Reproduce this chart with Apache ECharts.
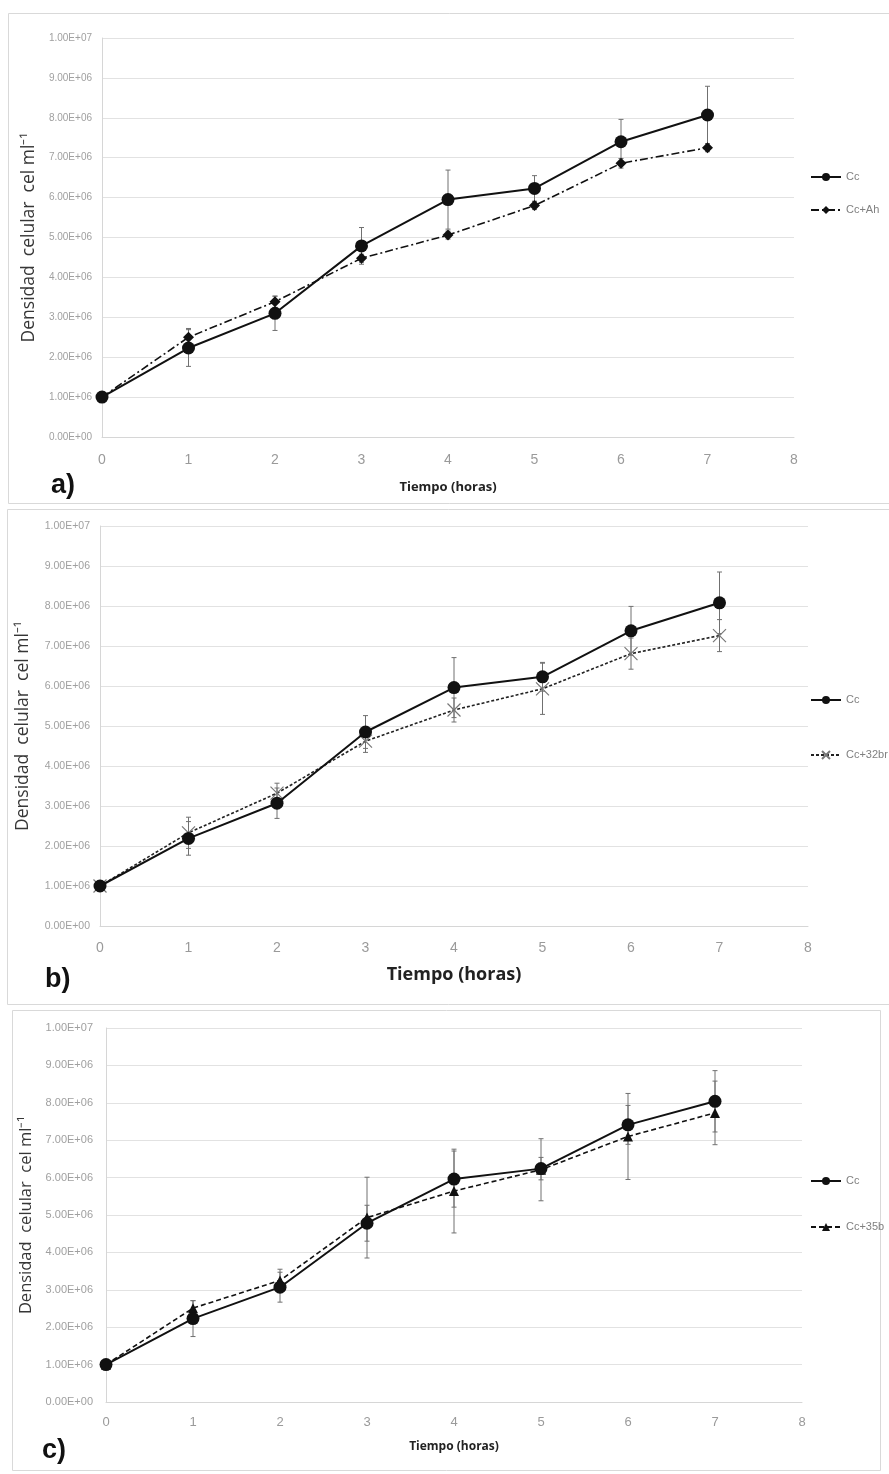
<!DOCTYPE html>
<html>
<head>
<meta charset="utf-8">
<script src="https://cdn.jsdelivr.net/npm/echarts@6/dist/echarts.min.js"></script>
<style>
html,body{margin:0;padding:0;background:#fff;}
#c{width:889px;height:1474px;}
</style>
</head>
<body>
<div id="c"></div>
<script>
// ---- data ----
const hours = [0, 1, 2, 3, 4, 5, 6, 7];
const xTicks = [0, 1, 2, 3, 4, 5, 6, 7, 8];

// panel a
const a_cc      = [1.00e6, 2.23e6, 3.10e6, 4.79e6, 5.95e6, 6.23e6, 7.40e6, 8.07e6];
const a_cc_err  = [0, 0.46e6, 0.43e6, 0.46e6, 0.74e6, 0.32e6, 0.56e6, 0.72e6];
const a_ah      = [1.00e6, 2.50e6, 3.39e6, 4.48e6, 5.06e6, 5.80e6, 6.86e6, 7.25e6];
const a_ah_err  = [0, 0.22e6, 0.14e6, 0.10e6, 0.10e6, 0.10e6, 0.12e6, 0.10e6];

// panel b
const b_cc      = [1.00e6, 2.19e6, 3.07e6, 4.85e6, 5.96e6, 6.23e6, 7.38e6, 8.08e6];
const b_cc_err  = [0, 0.42e6, 0.38e6, 0.41e6, 0.75e6, 0.36e6, 0.61e6, 0.77e6];
const b_br      = [1.00e6, 2.33e6, 3.32e6, 4.62e6, 5.40e6, 5.93e6, 6.81e6, 7.26e6];
const b_br_err  = [0, 0.39e6, 0.25e6, 0.28e6, 0.30e6, 0.64e6, 0.39e6, 0.40e6];

// panel c
const c_cc      = [1.00e6, 2.23e6, 3.07e6, 4.78e6, 5.96e6, 6.24e6, 7.41e6, 8.04e6];
const c_cc_err  = [0, 0.48e6, 0.40e6, 0.48e6, 0.75e6, 0.30e6, 0.52e6, 0.82e6];
const c_b       = [1.00e6, 2.51e6, 3.25e6, 4.93e6, 5.64e6, 6.21e6, 7.10e6, 7.73e6];
const c_b_err   = [0, 0.20e6, 0.30e6, 1.08e6, 1.12e6, 0.83e6, 1.15e6, 0.85e6];

const yTitle = 'Densidad  celular  cel ml\u207B\u00B9';
const xTitle = 'Tiempo (horas)';

// ---- helpers ----
function sci(v){
  if (v === 0) return '0.00E+00';
  const e = Math.floor(Math.log10(v) + 1e-9);
  const m = v / Math.pow(10, e);
  return m.toFixed(2) + 'E+' + String(e).padStart(2, '0');
}
function pts(vals){ return hours.map((h, i) => [h, vals[i]]); }
function errData(vals, errs){
  return hours.map((h, i) => [h, vals[i] - errs[i], vals[i] + errs[i]]).filter((d, i) => errs[i] > 0);
}
function errRender(params, api){
  const x = api.value(0);
  const lo = api.coord([x, api.value(1)]);
  const hi = api.coord([x, api.value(2)]);
  const w = 2.5;
  const style = {stroke: '#707070', lineWidth: 1};
  return {type: 'group', children: [
    {type: 'line', shape: {x1: lo[0], y1: lo[1], x2: hi[0], y2: hi[1]}, style: style},
    {type: 'line', shape: {x1: hi[0]-w, y1: hi[1], x2: hi[0]+w, y2: hi[1]}, style: style},
    {type: 'line', shape: {x1: lo[0]-w, y1: lo[1], x2: lo[0]+w, y2: lo[1]}, style: style}
  ]};
}

const grids = [
  {left: 102, top: 38, width: 692, height: 399},
  {left: 100, top: 526, width: 708, height: 400},
  {left: 106, top: 1028, width: 696, height: 374}
];
const cfg = [
  {yLab: 10, yMargin: 10, xLab: 14, xMargin: 16, xName: 13, xGap: 44, yGap: 61, yName: 17.5},
  {yLab: 10.5, yMargin: 10, xLab: 14, xMargin: 15, xName: 18, xGap: 40, yGap: 68, yName: 17.5},
  {yLab: 11, yMargin: 13, xLab: 13, xMargin: 14, xName: 12, xGap: 39, yGap: 70, yName: 16.5}
];

const xAxes = cfg.map((c, i) => ({
  type: 'value', gridIndex: i, min: 0, max: 8, interval: 1,
  name: xTitle, nameLocation: 'middle', nameGap: c.xGap,
  nameTextStyle: {fontFamily: "'Liberation Sans Narrow', 'Open Sans', sans-serif", fontWeight: 'bold', fontSize: c.xName, color: '#222'},
  axisLine: {show: true, lineStyle: {color: '#d6d6d6', width: 1}},
  axisTick: {show: false},
  splitLine: {show: false},
  axisLabel: {fontFamily: "'Liberation Sans', sans-serif", fontSize: c.xLab, color: '#9a9a9a', margin: c.xMargin}
}));
const yAxes = cfg.map((c, i) => ({
  type: 'value', gridIndex: i, min: 0, max: 1e7, interval: 1e6,
  name: yTitle, nameLocation: 'middle', nameRotate: 90, nameGap: c.yGap,
  nameTextStyle: {fontFamily: "'Open Sans', sans-serif", fontSize: c.yName, color: '#363636'},
  axisLine: {show: true, lineStyle: {color: '#d6d6d6', width: 1}},
  axisTick: {show: false},
  splitLine: {show: true, lineStyle: {color: '#e2e2e2', width: 1}},
  axisLabel: {fontFamily: "'Liberation Sans', sans-serif", fontSize: c.yLab, color: '#a0a0a0', margin: c.yMargin, formatter: sci}
}));

function ccSeries(i, vals){
  return {name: 'Cc', type: 'line', xAxisIndex: i, yAxisIndex: i, data: pts(vals), z: 3,
    symbol: 'circle', symbolSize: 13, showSymbol: true,
    lineStyle: {color: '#111', width: 2, type: 'solid'},
    itemStyle: {color: '#111'}};
}
function errSeries(i, vals, errs){
  return {type: 'custom', xAxisIndex: i, yAxisIndex: i, data: errData(vals, errs),
    renderItem: errRender, encode: {x: 0, y: [1, 2]}, z: 1, silent: true};
}

const series = [
  errSeries(0, a_cc, a_cc_err), errSeries(0, a_ah, a_ah_err),
  ccSeries(0, a_cc),
  {name: 'Cc+Ah', type: 'line', xAxisIndex: 0, yAxisIndex: 0, data: pts(a_ah), z: 2,
    symbol: 'diamond', symbolSize: 11,
    lineStyle: {color: '#111', width: 1.6, type: [8, 3, 2, 3]},
    itemStyle: {color: '#111'}},

  errSeries(1, b_cc, b_cc_err), errSeries(1, b_br, b_br_err),
  ccSeries(1, b_cc),
  {name: 'Cc+32br', type: 'line', xAxisIndex: 1, yAxisIndex: 1, data: pts(b_br), z: 2,
    symbol: 'path://M0,0L10,10M10,0L0,10', symbolSize: 13,
    lineStyle: {color: '#222', width: 1.6, type: [3, 2]},
    itemStyle: {color: 'rgba(0,0,0,0)', borderColor: '#777', borderWidth: 1.2}},

  errSeries(2, c_cc, c_cc_err), errSeries(2, c_b, c_b_err),
  ccSeries(2, c_cc),
  {name: 'Cc+35b', type: 'line', xAxisIndex: 2, yAxisIndex: 2, data: pts(c_b), z: 2,
    symbol: 'triangle', symbolSize: 10,
    lineStyle: {color: '#111', width: 1.6, type: [5, 3]},
    itemStyle: {color: '#111'}}
];

function leg(name, left, y){
  return {data: [name], left: left, top: y - 7, orient: 'horizontal', selectedMode: false,
    itemWidth: 30, itemHeight: 10, itemGap: 4,
    textStyle: {fontFamily: "'Liberation Sans', sans-serif", fontSize: 11, color: '#808080', lineHeight: 14}};
}
const legends = [
  leg('Cc', 805, 172), leg('Cc+Ah', 805, 205),
  leg('Cc', 805, 695), leg('Cc+32br', 805, 750),
  leg('Cc', 805, 1176), leg('Cc+35b', 805, 1222)
];

const panelStyle = {fill: 'none', stroke: '#d9d9d9', lineWidth: 1};
const labelFont = "bold 27px 'Liberation Sans', 'Open Sans', sans-serif";
const graphic = [
  {type: 'rect', shape: {x: 8.5, y: 13.5, width: 890, height: 490}, style: panelStyle, silent: true},
  {type: 'rect', shape: {x: 7.5, y: 509.5, width: 890, height: 495}, style: panelStyle, silent: true},
  {type: 'rect', shape: {x: 12.5, y: 1010.5, width: 868, height: 460}, style: panelStyle, silent: true},
  {type: 'text', left: 51, top: 472, style: {text: 'a)', font: labelFont, fill: '#111'}},
  {type: 'text', left: 45, top: 966, style: {text: 'b)', font: labelFont, fill: '#111'}},
  {type: 'text', left: 42, top: 1437, style: {text: 'c)', font: labelFont, fill: '#111'}}
];

const chart = echarts.init(document.getElementById('c'), null, {renderer: 'canvas'});
chart.setOption({
  animation: false,
  backgroundColor: '#fff',
  grid: grids,
  xAxis: xAxes,
  yAxis: yAxes,
  legend: legends,
  series: series,
  graphic: graphic
});
</script>
</body>
</html>
